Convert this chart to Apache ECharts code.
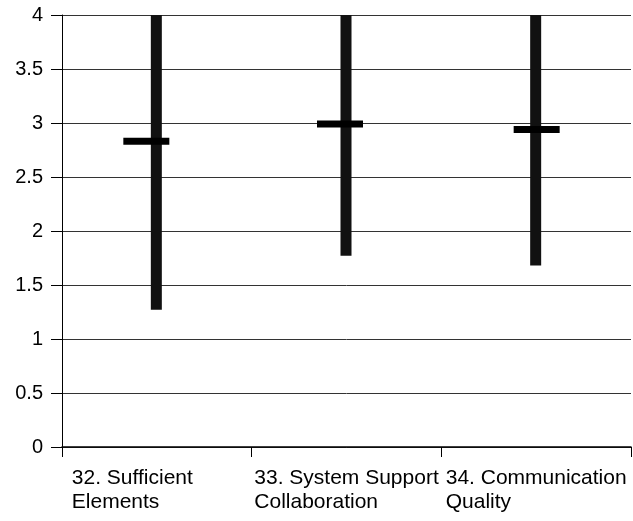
<!DOCTYPE html>
<html>
<head>
<meta charset="utf-8">
<script src="https://cdn.jsdelivr.net/npm/echarts@6/dist/echarts.min.js"></script>
<style>html,body{margin:0;padding:0;background:#fff}#c{width:633px;height:521px}</style>
</head>
<body>
<div id="c"></div>
<script>
var categories = ['32. Sufficient\nElements', '33. System Support\nCollaboration', '34. Communication\nQuality'];
var lows = [1.27, 1.77, 1.68];
var highs = [4, 4, 4];
var means = [2.83, 2.99, 2.94];
var yTicks = [0, 0.5, 1, 1.5, 2, 2.5, 3, 3.5, 4];

var meanShift = [-10, -6, 1];
var labelStyleKey = ['w', 'n', 'n'];

var chart = echarts.init(document.getElementById('c'));
var data = categories.map(function (c, i) { return [i, lows[i], highs[i], means[i]]; });
var font = 'Liberation Sans, Arial, sans-serif';

chart.setOption({
  animation: false,
  backgroundColor: '#fff',
  grid: { left: 62, right: 2, top: 15, bottom: 74, containLabel: false },
  xAxis: {
    type: 'category',
    data: categories,
    boundaryGap: true,
    axisLine: { show: true, lineStyle: { color: '#000', width: 1.5 } },
    axisTick: { show: true, interval: 0, length: 10, lineStyle: { color: '#000', width: 1 } },
    axisLabel: {
      interval: 0,
      hideOverlap: false,
      margin: 19,
      color: '#000',
      fontFamily: font,
      fontSize: 21,
      lineHeight: 24,
      formatter: function (v, idx) {
        var k = labelStyleKey[idx] || 'n';
        return v.split('\n').map(function (s) { return '{' + k + '|' + s + '}'; }).join('\n');
      },
      rich: {
        w: { width: 170, align: 'left', fontSize: 21, lineHeight: 24, color: '#000', fontFamily: font },
        n: { align: 'left', fontSize: 21, lineHeight: 24, color: '#000', fontFamily: font }
      }
    },
    splitLine: { show: false }
  },
  yAxis: {
    type: 'value',
    min: 0, max: 4, interval: 0.5,
    axisLine: { show: true, lineStyle: { color: '#000', width: 1 } },
    axisTick: { show: true, length: 11, lineStyle: { color: '#000' } },
    axisLabel: {
      margin: 19, color: '#000', fontSize: 20,
      fontFamily: font,
      formatter: function (v) { return yTicks.indexOf(v) >= 0 ? String(v) : ''; }
    },
    splitLine: { show: true, lineStyle: { color: '#333', width: 1 } }
  },
  series: [{
    type: 'custom',
    data: data,
    encode: { x: 0, y: [1, 2, 3] },
    renderItem: function (params, api) {
      var i = api.value(0);
      var lo = api.coord([i, api.value(1)]);
      var hi = api.coord([i, api.value(2)]);
      var mn = api.coord([i, api.value(3)]);
      var bw = 11, tw = 46, th = 7;
      var cx = lo[0] - 0.5;
      return {
        type: 'group',
        children: [
          { type: 'rect', shape: { x: cx - bw / 2, y: hi[1], width: bw, height: lo[1] - hi[1] }, style: { fill: '#111' } },
          { type: 'rect', shape: { x: cx + meanShift[params.dataIndex] - tw / 2, y: mn[1] - th / 2, width: tw, height: th }, style: { fill: '#000' } }
        ]
      };
    }
  }]
});
</script>
</body>
</html>
